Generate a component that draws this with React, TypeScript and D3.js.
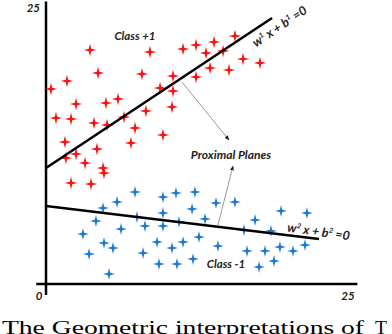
import React, { useEffect, useRef } from 'react';
import * as d3 from 'd3';

// Class +1 points (x, y in axis units)
const classPlusX = [3.62, 8.55, 11.27, 12.34, 4.28, 7.89, 10.44, 12.34, 1.73, 0.41, 9.38, 10.44, 2.47, 4.93, 5.92, 10.36, 0.82, 2.06, 3.95, 5.02, 6.41, 8.22, 7.32, 9.62, 1.56, 6.99, 4.19, 2.47, 1.64, 3.21, 4.69, 2.06, 3.7, 4.77, 13.82, 15.54, 13.16, 14.56, 16.2, 17.6, 13.49, 15.05];
const classPlusY = [21.2, 21.01, 21.29, 21.65, 19.11, 19.02, 18.84, 18.75, 18.39, 17.66, 17.75, 17.48, 16.3, 16.39, 16.76, 16.03, 15.04, 14.95, 14.58, 14.4, 15.13, 15.67, 14.13, 13.5, 12.86, 12.77, 12.23, 11.78, 11.41, 10.96, 10.51, 9.15, 9.06, 10.05, 21.92, 22.46, 20.92, 21.11, 20.38, 20.02, 19.57, 19.38];

// Class -1 points
const classMinusX = [7.32, 9.62, 10.69, 12.25, 5.84, 4.69, 9.62, 12.01, 7.48, 4.11, 8.14, 9.62, 10.94, 6.17, 3.04, 12.58, 4.77, 5.51, 9.13, 11.27, 10.36, 3.54, 7.98, 9.29, 10.77, 12.09, 5.18, 13.98, 15.54, 13.08, 17.19, 19.33, 21.46, 16.28, 18.5, 14.14, 16.53, 18.01, 19.24, 20.31, 21.3, 18.75, 17.52];
const classMinusY = [8.33, 7.88, 8.24, 8.33, 7.43, 6.88, 6.43, 6.79, 6.07, 5.71, 5.25, 5.25, 5.62, 4.98, 4.53, 4.26, 3.71, 3.26, 3.8, 3.8, 3.26, 2.72, 2.81, 1.81, 1.81, 2.26, 0.91, 7.34, 7.43, 5.89, 5.8, 6.61, 6.43, 4.89, 4.8, 3.44, 2.99, 2.99, 3.35, 2.99, 3.53, 2.08, 1.54];

// Proximal planes: [x0, y0, x1, y1]
const plane1 = [0, 10.51, 18.59, 24.09];
const plane2 = [0, 7.07, 22.45, 4.08];

// Pointer arrows to the planes: [x0, y0, x1, y1]
const arrows = [
  [11.18, 18.3, 15.05, 13.04],
  [14.14, 5.34, 15.38, 10.69],
];

const tickLabels = ['0', '25'];

const App = () => {
  const ref = useRef<HTMLDivElement>(null);

  useEffect(() => {
    document.body.style.margin = '0';
    d3.select(ref.current).selectAll('*').remove();

    const width = 392;
    const height = 334;
    const x = d3.scaleLinear().domain([0, 25]).range([46, 350]);
    const y = d3.scaleLinear().domain([0, 25]).range([284, 8]);

    const svg = d3.select(ref.current).append('svg').attr('width', width).attr('height', height).style('display', 'block').style('background', '#fff');

    const defs = svg.append('defs');
    defs.append('marker').attr('id', 'head').attr('viewBox', '0 0 10 10').attr('refX', 9).attr('refY', 5)
      .attr('markerWidth', 5).attr('markerHeight', 5).attr('orient', 'auto')
      .append('path').attr('d', 'M0,1 L10,5 L0,9 Z').attr('fill', '#222');

    // four point star
    const star = {
      draw(ctx: any, size: number) {
        const r = Math.sqrt(size) / 2;
        const k = r * 0.2;
        ctx.moveTo(0, -r);
        ctx.lineTo(k, -k);
        ctx.lineTo(r, 0);
        ctx.lineTo(k, k);
        ctx.lineTo(0, r);
        ctx.lineTo(-k, k);
        ctx.lineTo(-r, 0);
        ctx.lineTo(-k, -k);
        ctx.closePath();
      },
    };

    // axes
    const ax = svg.append('g').attr('stroke', '#000').attr('stroke-width', 2.5);
    ax.append('line').attr('x1', x(0)).attr('x2', x(0)).attr('y1', y(25.6)).attr('y2', y(-1));
    ax.append('line').attr('x1', x(-0.8)).attr('x2', x(25.6)).attr('y1', y(0)).attr('y2', y(0));

    const lab = svg.append('g').attr('font-family', 'Lato, "Open Sans", sans-serif').attr('font-weight', 'bold').attr('font-style', 'italic').attr('fill', '#222');
    lab.append('text').attr('x', x(0) - 6).attr('y', y(25) + 4).attr('text-anchor', 'end').attr('font-size', 11.5).text('25');
    lab.append('text').attr('x', x(0) - 7).attr('y', y(0) + 16).attr('text-anchor', 'middle').attr('font-size', 11.5).text(tickLabels[0]);
    lab.append('text').attr('x', x(25) - 2).attr('y', y(0) + 16).attr('text-anchor', 'middle').attr('font-size', 11.5).text(tickLabels[1]);

    // arrows
    svg.selectAll('line.arrow').data(arrows).enter().append('line').attr('class', 'arrow')
      .attr('x1', (d) => x(d[0])).attr('y1', (d) => y(d[1])).attr('x2', (d) => x(d[2])).attr('y2', (d) => y(d[3]))
      .attr('stroke', '#999').attr('stroke-width', 1).attr('marker-end', 'url(#head)');

    // points
    const sym = d3.symbol().type(star as any).size(156);
    svg.append('g').selectAll('path').data(d3.range(classPlusX.length)).enter().append('path')
      .attr('d', sym).attr('transform', (i) => `translate(${x(classPlusX[i])},${y(classPlusY[i])})`)
      .attr('fill', '#ff1010');
    const symB = d3.symbol().type(star as any).size(140);
    svg.append('g').selectAll('path').data(d3.range(classMinusX.length)).enter().append('path')
      .attr('d', symB).attr('transform', (i) => `translate(${x(classMinusX[i])},${y(classMinusY[i])})`)
      .attr('fill', '#1c7ad2');

    // planes
    svg.selectAll('line.plane').data([plane1, plane2]).enter().append('line').attr('class', 'plane')
      .attr('x1', (d) => x(d[0])).attr('y1', (d) => y(d[1])).attr('x2', (d) => x(d[2])).attr('y2', (d) => y(d[3]))
      .attr('stroke', '#000').attr('stroke-width', 2.5);

    // labels
    lab.append('text').attr('x', 135).attr('y', 40).attr('text-anchor', 'middle').attr('font-size', 11.5).text('Class +1');
    lab.append('text').attr('x', 226).attr('y', 268).attr('text-anchor', 'middle').attr('font-size', 11.5).text('Class -1');
    lab.append('text').attr('x', 231).attr('y', 159).attr('text-anchor', 'middle').attr('font-size', 12).text('Proximal Planes');

    const eq = (g: any, n: string) => {
      g.append('tspan').text('w');
      g.append('tspan').attr('dy', -5).attr('font-size', 7).text(n);
      g.append('tspan').attr('dy', 5).text(' x + b');
      g.append('tspan').attr('dy', -5).attr('font-size', 7).text(n);
      g.append('tspan').attr('dy', 5).text(' =0');
    };
    eq(lab.append('text').attr('text-anchor', 'middle').attr('font-size', 12.5).attr('transform', 'translate(282,30) rotate(-34)'), '1');
    eq(lab.append('text').attr('text-anchor', 'middle').attr('font-size', 12.5).attr('transform', 'translate(318,236) rotate(8)'), '2');

    // caption (cut off at the bottom/right edge, as in the source)
    const cap = svg.append('g').attr('font-family', '"Liberation Serif", serif').attr('font-size', 19.5).attr('fill', '#000');
    cap.append('text').attr('x', 2).attr('y', 334).attr('textLength', 362).attr('lengthAdjust', 'spacingAndGlyphs').text('The Geometric interpretations of');
    cap.append('text').attr('x', 375).attr('y', 334).text('T');
  }, []);

  return <div ref={ref}></div>;
};

export default App;
